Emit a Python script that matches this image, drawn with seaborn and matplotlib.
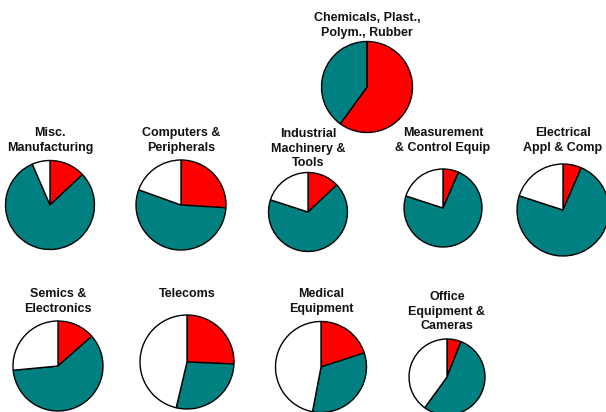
import matplotlib
matplotlib.use("Agg")
import matplotlib.pyplot as plt
import seaborn as sns

# shares per sector (percent)
sectors = ["Chemicals, Plast.,\nPolym., Rubber",
           "Misc.\nManufacturing",
           "Computers &\nPeripherals",
           "Industrial\nMachinery &\nTools",
           "Measurement\n& Control Equip",
           "Electrical\nAppl & Comp",
           "Semics &\nElectronics",
           "Telecoms",
           "Medical\nEquipment",
           "Office\nEquipment &\nCameras"]
red_share = [60, 13, 26, 13, 6.5, 6.5, 13.5, 25.7, 20, 6]
teal_share = [40, 80.5, 54.5, 67, 73.5, 73.5, 60, 28, 33, 54]
white_share = [0, 6.5, 19.5, 20, 20, 20, 26.5, 46.3, 47, 40]

slice_colors = ["#ff0000", "#008080", "#ffffff"]

# layout in pixels: pie centre x, centre y (from top), radius, title first line centre y
layout = [(367, 87, 45.5, 18),
          (50, 205, 44.5, 133),
          (181, 205, 45, 133),
          (308, 212, 39.5, 134),
          (443, 208, 39, 133),
          (563, 210, 46, 133),
          (58, 366, 45, 294),
          (187, 362, 47, 294),
          (321, 367, 45.5, 294),
          (447, 377, 38, 297)]

W, H = 606, 412

sns.set_style("white")
plt.rcParams['font.family'] = ['Liberation Sans', 'DejaVu Sans']

fig = plt.figure(figsize=(W / 100, H / 100), dpi=100)
ax = fig.add_axes([0, 0, 1, 1])

for i, name in enumerate(sectors):
    cx, cy, r, ty = layout[i]
    vals = [red_share[i], teal_share[i], white_share[i]]
    ax.pie(vals, colors=slice_colors, startangle=90, counterclock=False,
           center=(cx, H - cy), radius=r,
           wedgeprops=dict(edgecolor="black", linewidth=1.0))
    ax.text(cx, H - ty + 6, name, ha="center", va="top", fontsize=9,
            fontweight="bold", linespacing=1.3, color="#111111")

ax.set_xlim(0, W)
ax.set_ylim(0, H)
ax.set_aspect("equal")
ax.axis("off")

fig.savefig("out.png", dpi=100)
